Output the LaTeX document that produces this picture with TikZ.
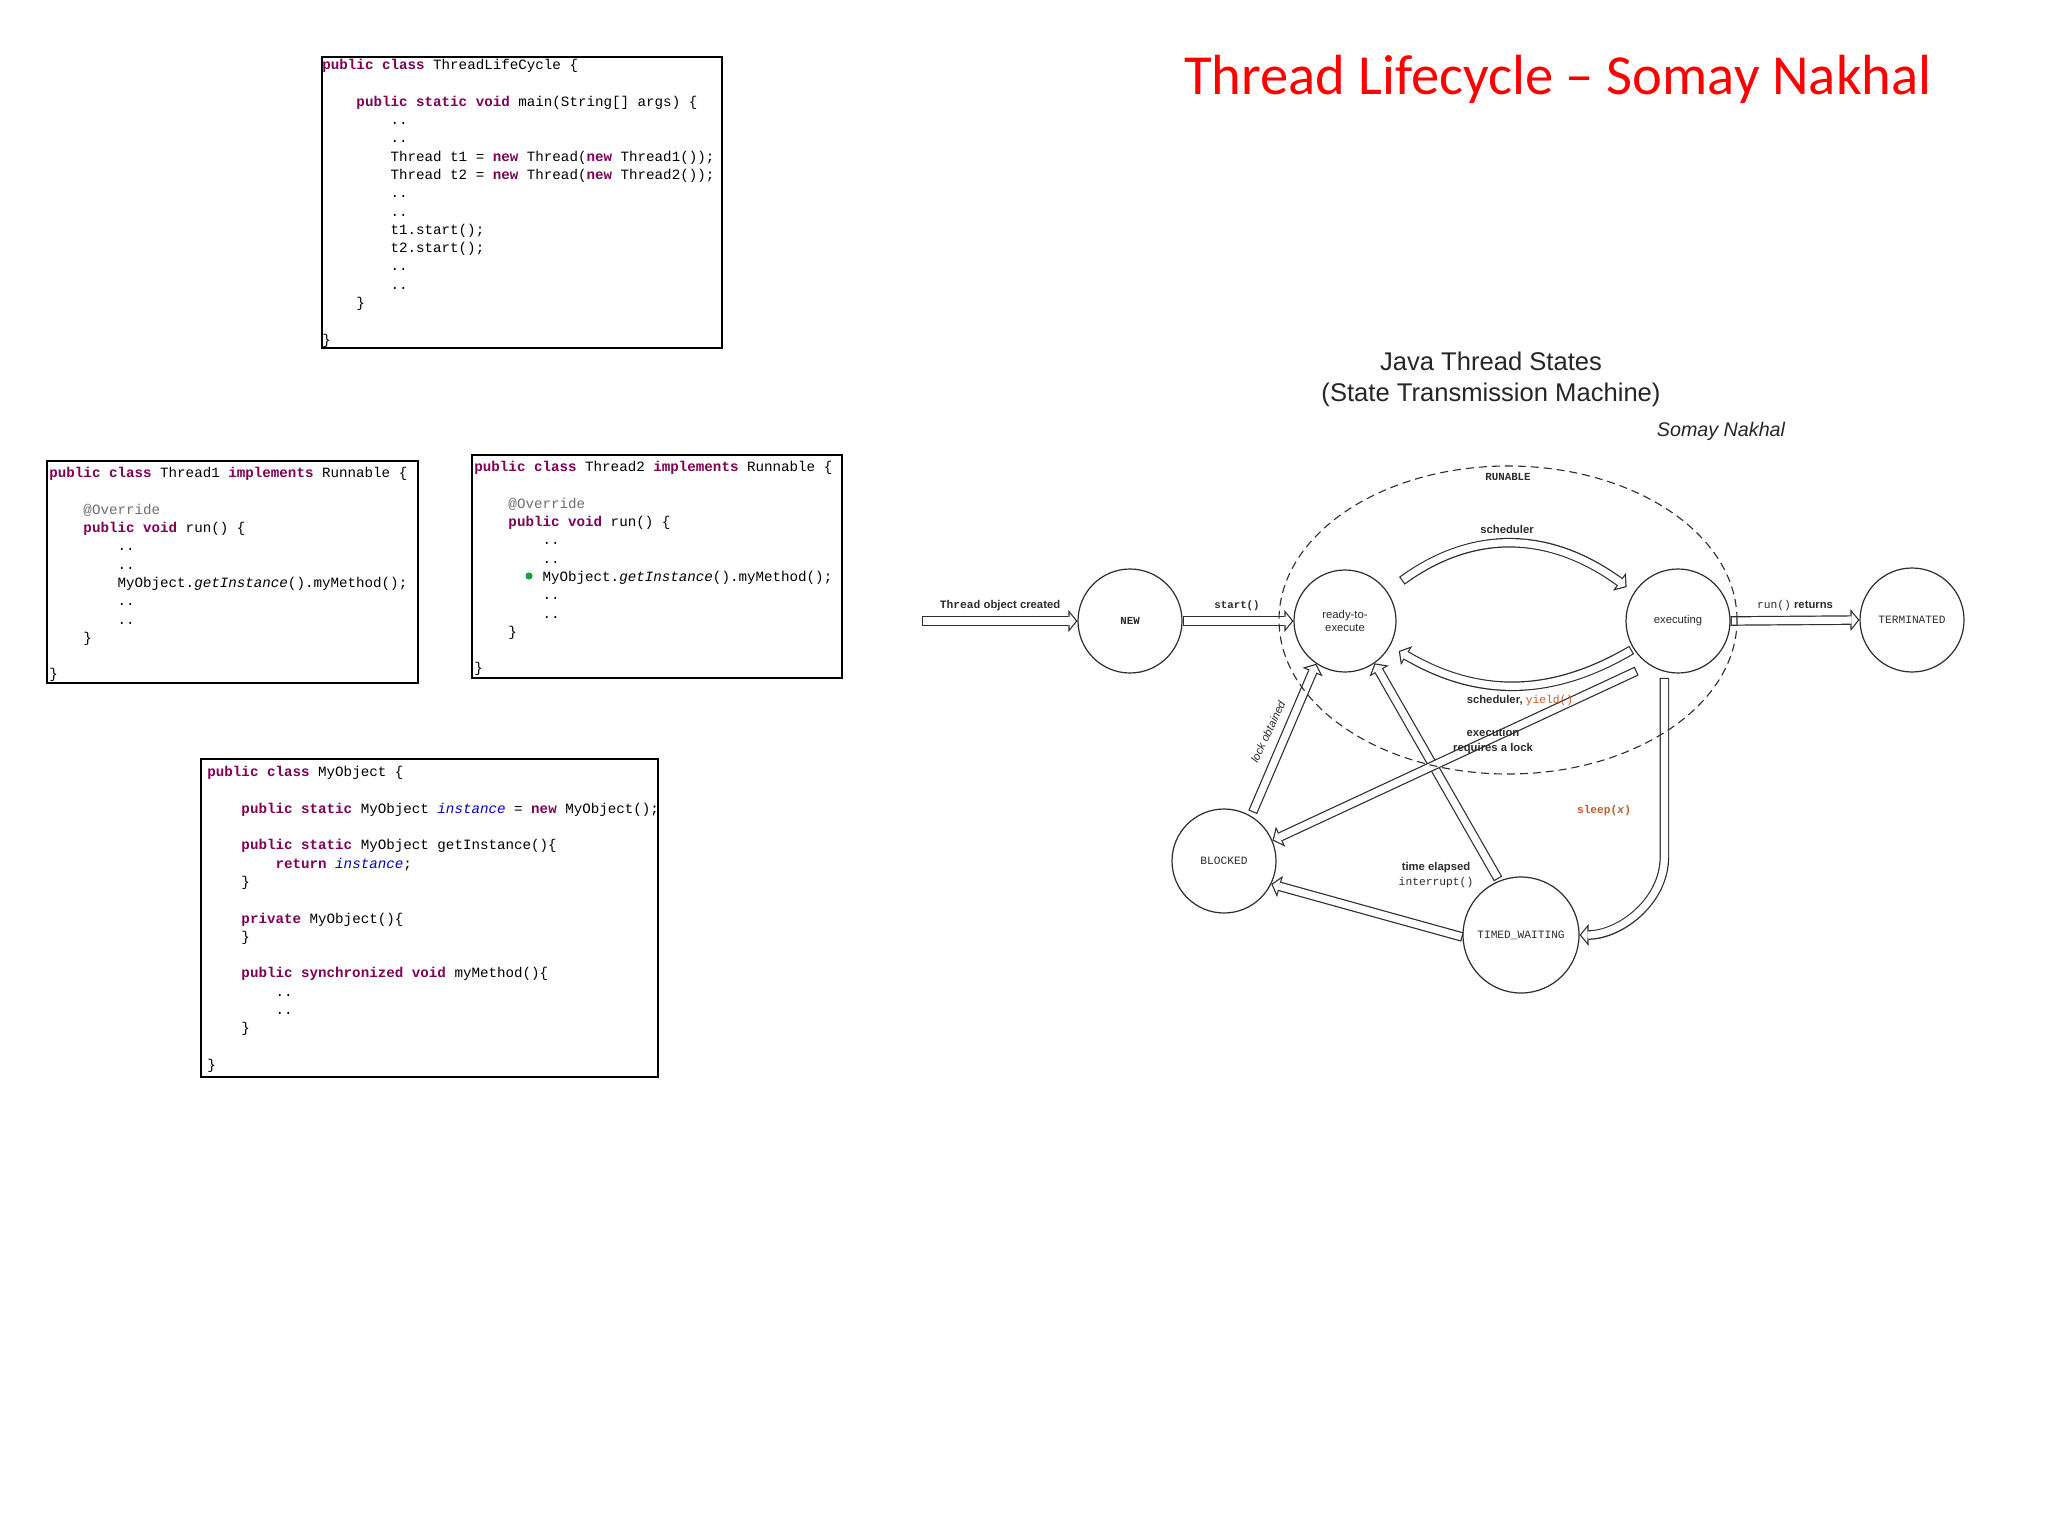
\documentclass[tikz,border=0pt]{standalone}
\usepackage{fontspec}
\setmainfont{Liberation Sans}
\setsansfont{Liberation Sans}
\setmonofont{Liberation Mono}
\newfontfamily\calfont{Carlito}
\usetikzlibrary{arrows.meta}
\definecolor{kw}{RGB}{127,0,85}
\definecolor{ann}{RGB}{110,110,110}
\definecolor{fld}{RGB}{0,0,192}
\definecolor{orng}{RGB}{192,96,40}
\definecolor{dotg}{RGB}{20,160,60}
\definecolor{ttl}{RGB}{255,0,0}
\definecolor{ln}{RGB}{45,45,45}
\newcommand\kw[1]{\textcolor{kw}{\bfseries #1}}
\newcommand\fld[1]{\textcolor{fld}{\itshape #1}}
\newcommand\ind[1]{\hspace*{#1\dimexpr0.6em\relax}}
\newcommand\cstrut{\strut}
\begin{document}
\begin{tikzpicture}[x=0.5pt,y=-0.5pt,
  code/.style={anchor=north west, inner sep=0pt, align=left, font=\ttfamily\fontsize{7.1}{9.15}\selectfont},
  codebox/.style={draw=black, line width=1pt},
  state/.style={circle, draw=ln, line width=0.6pt, minimum size=52pt, inner sep=0pt, fill=white, text=ln,
    font=\ttfamily\fontsize{5.6}{6.5}\selectfont},
  lab/.style={inner sep=0pt, text=ln, font=\sffamily\bfseries\fontsize{5.65}{7.5}\selectfont},
  hol/.style 2 args={draw=ln, line width=4.8pt, shorten <=#1, shorten >=#2,
    -{Triangle[width=11pt 0 0,length=4.5pt 0 0,line width=0pt 0 0]},
    postaction={draw=white, line width=3.6pt, shorten <=#1+0.6pt, shorten >=#2+0.78pt,
      -{Triangle[width=7.63pt 0 0,length=3.12pt 0 0,line width=0pt 0 0]}}},
]
\useasboundingbox (0,0) rectangle (2048,1536);
\fill[white] (0,0) rectangle (2048,1536);

% ---------- code boxes ----------
\draw[codebox] (322,57) rectangle (722,348);
\node[code] (c1) at (322,56.4) {%
\cstrut\kw{public class} ThreadLifeCycle \{\\
\cstrut\\
\cstrut\ind{4}\kw{public static void} main(String[] args) \{\\
\cstrut\ind{8}..\\
\cstrut\ind{8}..\\
\cstrut\ind{8}Thread t1 = \kw{new} Thread(\kw{new} Thread1());\\
\cstrut\ind{8}Thread t2 = \kw{new} Thread(\kw{new} Thread2());\\
\cstrut\ind{8}..\\
\cstrut\ind{8}..\\
\cstrut\ind{8}t1.start();\\
\cstrut\ind{8}t2.start();\\
\cstrut\ind{8}..\\
\cstrut\ind{8}..\\
\cstrut\ind{4}\}\\
\cstrut\\
\cstrut\}};

\draw[codebox] (47,461) rectangle (418,683);
\node[code] (c2) at (49,464.4) {%
\cstrut\kw{public class} Thread1 \kw{implements} Runnable \{\\
\cstrut\\
\cstrut\ind{4}\textcolor{ann}{@Override}\\
\cstrut\ind{4}\kw{public void} run() \{\\
\cstrut\ind{8}..\\
\cstrut\ind{8}..\\
\cstrut\ind{8}MyObject.\textit{getInstance}().myMethod();\\
\cstrut\ind{8}..\\
\cstrut\ind{8}..\\
\cstrut\ind{4}\}\\
\cstrut\\
\cstrut\}};

\draw[codebox] (472,455) rectangle (842,678);
\node[code] (c3) at (474,458.4) {%
\cstrut\kw{public class} Thread2 \kw{implements} Runnable \{\\
\cstrut\\
\cstrut\ind{4}\textcolor{ann}{@Override}\\
\cstrut\ind{4}\kw{public void} run() \{\\
\cstrut\ind{8}..\\
\cstrut\ind{8}..\\
\cstrut\ind{8}MyObject.\textit{getInstance}().myMethod();\\
\cstrut\ind{8}..\\
\cstrut\ind{8}..\\
\cstrut\ind{4}\}\\
\cstrut\\
\cstrut\}};
\fill[dotg] (529,576) circle (1.8pt);

\draw[codebox] (201,759) rectangle (658,1077);
\node[code] (c4) at (207,763.4) {%
\cstrut\kw{public class} MyObject \{\\
\cstrut\\
\cstrut\ind{4}\kw{public static} MyObject \fld{instance} = \kw{new} MyObject();\\
\cstrut\\
\cstrut\ind{4}\kw{public static} MyObject getInstance()\{\\
\cstrut\ind{8}\kw{return} \fld{instance};\\
\cstrut\ind{4}\}\\
\cstrut\\
\cstrut\ind{4}\kw{private} MyObject()\{\\
\cstrut\ind{4}\}\\
\cstrut\\
\cstrut\ind{4}\kw{public synchronized void} myMethod()\{\\
\cstrut\ind{8}..\\
\cstrut\ind{8}..\\
\cstrut\ind{4}\}\\
\cstrut\\
\cstrut\}};

% ---------- titles ----------
\node[font=\calfont\fontsize{28.3}{34}\selectfont, text=ttl, anchor=base, inner sep=0pt] (title) at (1558,95) {Thread Lifecycle – Somay Nakhal};
\node[font=\sffamily\fontsize{12.8}{15.5}\selectfont, align=center, inner sep=0pt, text=black!85] (jts) at (1491,379) {Java Thread States\\(State Transmission Machine)};
\node[font=\sffamily\itshape\fontsize{9.85}{12}\selectfont, inner sep=0pt, text=black!85] (auth) at (1721,431) {Somay Nakhal};

% ---------- states ----------
\node[state, font=\ttfamily\bfseries\fontsize{5.4}{6.5}\selectfont] (new) at (1130,621) {NEW};
\node[state, minimum size=51pt, align=center, font=\sffamily\fontsize{5.65}{6.5}\selectfont] (ready) at (1345,621) {ready-to-\\execute};
\node[state, font=\sffamily\fontsize{5.65}{6.5}\selectfont] (exec) at (1678,621) {executing};
\node[state] (term) at (1912,620) {TERMINATED};
\node[state] (blocked) at (1224,861) {BLOCKED};
\node[state, minimum size=58pt] (tw) at (1521,935) {TIMED\_WAITING};

% ---------- connectors ----------
\coordinate (src) at (922,621);
\draw[hol={0pt}{0pt}] (src) -- (new.west);
\draw[hol={0pt}{0pt}] (new.east) -- (ready.west);
\draw[hol={9pt}{4.5pt}] (ready.35) .. controls +(85,-62) and +(-85,-62) .. (exec.147);
\draw[hol={1pt}{5pt}] (exec.212) .. controls +(-85,50) and +(85,50) .. (ready.-29);
\draw[hol={0pt}{0pt}] (exec.east) -- (term.west);
\draw[hol={2pt}{0pt}] (blocked.59) -- (ready.236);
\draw[hol={1pt}{0pt}] (tw.112) -- (ready.305);
\draw[hol={7pt}{0pt}] (exec.237) -- (blocked.23);
\draw[hol={0pt}{0pt}] (tw.182) -- (blocked.334);
\draw[hol={3pt}{0pt}] (exec.255) -- ++(0,185) .. controls +(0,45) and +(40,0) .. (tw.0);

% ---------- RUNABLE region ----------
\draw[ln, line width=0.55pt, dash pattern=on 4pt off 2.5pt] (1508,620) ellipse [x radius=114.5pt, y radius=77pt];

% ---------- labels ----------
\node[lab] (ltoc) at (1000,606) {{\ttfamily Thread}\ object created};
\node[lab, font=\ttfamily\bfseries\fontsize{5.4}{6.5}\selectfont] (lstart) at (1237,606) {start()};
\node[lab, font=\ttfamily\bfseries\fontsize{5.4}{6.5}\selectfont] (lrunable) at (1508,477) {RUNABLE};
\node[lab] (lsch) at (1507,529) {scheduler};
\node[lab] (lsy) at (1520,701) {scheduler, {\ttfamily\mdseries\color{orng}yield()}};
\node[lab, align=center] (lexe) at (1493,741) {execution\\requires a lock};
\node[lab, font=\sffamily\itshape\fontsize{5.65}{7}\selectfont, rotate=65] (llock) at (1268,732) {lock obtained};
\node[lab, font=\ttfamily\bfseries\fontsize{5.6}{7}\selectfont, text=orng] (lsleep) at (1604,811) {sleep(\textit{x})};
\node[lab, align=center] (ltime) at (1436,875) {time elapsed\\{\ttfamily\mdseries interrupt()}};
\node[lab] (lret) at (1795,606) {{\ttfamily\mdseries run()}\ returns};
\end{tikzpicture}
\end{document}
